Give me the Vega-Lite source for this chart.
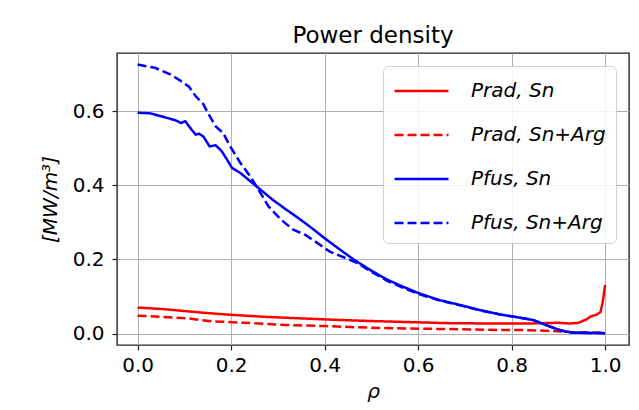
{
  "$schema": "https://vega.github.io/schema/vega-lite/v6.json",
  "width": 512,
  "height": 292,
  "autosize": {"type": "none"},
  "padding": {"left": 117, "top": 53, "right": 10, "bottom": 65},
  "background": "white",
  "title": {"text": "Power density", "font": "DejaVu Sans", "fontSize": 23, "fontWeight": "normal", "color": "black", "offset": 5, "anchor": "middle"},
  "config": {
    "view": {"stroke": "#222222", "strokeWidth": 1.4},
    "axis": {"domain": false, "grid": true, "gridColor": "#b0b0b0", "gridWidth": 1, "tickColor": "#222222", "tickSize": 5, "tickWidth": 1.2, "labelFont": "DejaVu Sans", "labelFontSize": 20, "labelColor": "black", "titleFont": "DejaVu Sans", "titleFontSize": 20, "titleFontWeight": "normal", "titleColor": "black", "titleFontStyle": "italic"}
  },
  "data": {"values": [
    {"rho": 0.0, "p": 0.070, "s": "Prad, Sn"},
    {"rho": 0.054, "p": 0.066, "s": "Prad, Sn"},
    {"rho": 0.106, "p": 0.060, "s": "Prad, Sn"},
    {"rho": 0.141, "p": 0.056, "s": "Prad, Sn"},
    {"rho": 0.193, "p": 0.051, "s": "Prad, Sn"},
    {"rho": 0.272, "p": 0.045, "s": "Prad, Sn"},
    {"rho": 0.402, "p": 0.038, "s": "Prad, Sn"},
    {"rho": 0.49, "p": 0.034, "s": "Prad, Sn"},
    {"rho": 0.577, "p": 0.031, "s": "Prad, Sn"},
    {"rho": 0.664, "p": 0.028, "s": "Prad, Sn"},
    {"rho": 0.751, "p": 0.027, "s": "Prad, Sn"},
    {"rho": 0.838, "p": 0.027, "s": "Prad, Sn"},
    {"rho": 0.899, "p": 0.029, "s": "Prad, Sn"},
    {"rho": 0.925, "p": 0.027, "s": "Prad, Sn"},
    {"rho": 0.943, "p": 0.029, "s": "Prad, Sn"},
    {"rho": 0.96, "p": 0.038, "s": "Prad, Sn"},
    {"rho": 0.969, "p": 0.046, "s": "Prad, Sn"},
    {"rho": 0.982, "p": 0.051, "s": "Prad, Sn"},
    {"rho": 0.99, "p": 0.058, "s": "Prad, Sn"},
    {"rho": 0.995, "p": 0.086, "s": "Prad, Sn"},
    {"rho": 1.0, "p": 0.131, "s": "Prad, Sn"},

    {"rho": 0.0, "p": 0.048, "s": "Prad, Sn+Arg"},
    {"rho": 0.054, "p": 0.045, "s": "Prad, Sn+Arg"},
    {"rho": 0.106, "p": 0.041, "s": "Prad, Sn+Arg"},
    {"rho": 0.159, "p": 0.033, "s": "Prad, Sn+Arg"},
    {"rho": 0.228, "p": 0.029, "s": "Prad, Sn+Arg"},
    {"rho": 0.315, "p": 0.023, "s": "Prad, Sn+Arg"},
    {"rho": 0.402, "p": 0.020, "s": "Prad, Sn+Arg"},
    {"rho": 0.49, "p": 0.016, "s": "Prad, Sn+Arg"},
    {"rho": 0.577, "p": 0.0135, "s": "Prad, Sn+Arg"},
    {"rho": 0.664, "p": 0.012, "s": "Prad, Sn+Arg"},
    {"rho": 0.751, "p": 0.010, "s": "Prad, Sn+Arg"},
    {"rho": 0.838, "p": 0.009, "s": "Prad, Sn+Arg"},
    {"rho": 0.882, "p": 0.007, "s": "Prad, Sn+Arg"},
    {"rho": 0.925, "p": 0.004, "s": "Prad, Sn+Arg"},
    {"rho": 1.0, "p": 0.002, "s": "Prad, Sn+Arg"},

    {"rho": 0.0, "p": 0.596, "s": "Pfus, Sn"},
    {"rho": 0.028, "p": 0.594, "s": "Pfus, Sn"},
    {"rho": 0.054, "p": 0.585, "s": "Pfus, Sn"},
    {"rho": 0.08, "p": 0.576, "s": "Pfus, Sn"},
    {"rho": 0.093, "p": 0.568, "s": "Pfus, Sn"},
    {"rho": 0.102, "p": 0.573, "s": "Pfus, Sn"},
    {"rho": 0.11, "p": 0.559, "s": "Pfus, Sn"},
    {"rho": 0.124, "p": 0.537, "s": "Pfus, Sn"},
    {"rho": 0.132, "p": 0.539, "s": "Pfus, Sn"},
    {"rho": 0.141, "p": 0.531, "s": "Pfus, Sn"},
    {"rho": 0.154, "p": 0.505, "s": "Pfus, Sn"},
    {"rho": 0.167, "p": 0.508, "s": "Pfus, Sn"},
    {"rho": 0.18, "p": 0.492, "s": "Pfus, Sn"},
    {"rho": 0.189, "p": 0.474, "s": "Pfus, Sn"},
    {"rho": 0.202, "p": 0.447, "s": "Pfus, Sn"},
    {"rho": 0.22, "p": 0.433, "s": "Pfus, Sn"},
    {"rho": 0.241, "p": 0.411, "s": "Pfus, Sn"},
    {"rho": 0.263, "p": 0.388, "s": "Pfus, Sn"},
    {"rho": 0.289, "p": 0.361, "s": "Pfus, Sn"},
    {"rho": 0.315, "p": 0.337, "s": "Pfus, Sn"},
    {"rho": 0.341, "p": 0.314, "s": "Pfus, Sn"},
    {"rho": 0.368, "p": 0.289, "s": "Pfus, Sn"},
    {"rho": 0.398, "p": 0.259, "s": "Pfus, Sn"},
    {"rho": 0.429, "p": 0.230, "s": "Pfus, Sn"},
    {"rho": 0.463, "p": 0.199, "s": "Pfus, Sn"},
    {"rho": 0.498, "p": 0.171, "s": "Pfus, Sn"},
    {"rho": 0.533, "p": 0.146, "s": "Pfus, Sn"},
    {"rho": 0.568, "p": 0.126, "s": "Pfus, Sn"},
    {"rho": 0.603, "p": 0.108, "s": "Pfus, Sn"},
    {"rho": 0.646, "p": 0.090, "s": "Pfus, Sn"},
    {"rho": 0.69, "p": 0.077, "s": "Pfus, Sn"},
    {"rho": 0.733, "p": 0.063, "s": "Pfus, Sn"},
    {"rho": 0.777, "p": 0.051, "s": "Pfus, Sn"},
    {"rho": 0.821, "p": 0.042, "s": "Pfus, Sn"},
    {"rho": 0.847, "p": 0.036, "s": "Pfus, Sn"},
    {"rho": 0.873, "p": 0.023, "s": "Pfus, Sn"},
    {"rho": 0.899, "p": 0.011, "s": "Pfus, Sn"},
    {"rho": 0.916, "p": 0.005, "s": "Pfus, Sn"},
    {"rho": 0.934, "p": 0.002, "s": "Pfus, Sn"},
    {"rho": 1.0, "p": 0.001, "s": "Pfus, Sn"},

    {"rho": 0.0, "p": 0.726, "s": "Pfus, Sn+Arg"},
    {"rho": 0.037, "p": 0.717, "s": "Pfus, Sn+Arg"},
    {"rho": 0.071, "p": 0.699, "s": "Pfus, Sn+Arg"},
    {"rho": 0.098, "p": 0.677, "s": "Pfus, Sn+Arg"},
    {"rho": 0.11, "p": 0.666, "s": "Pfus, Sn+Arg"},
    {"rho": 0.124, "p": 0.641, "s": "Pfus, Sn+Arg"},
    {"rho": 0.141, "p": 0.618, "s": "Pfus, Sn+Arg"},
    {"rho": 0.15, "p": 0.596, "s": "Pfus, Sn+Arg"},
    {"rho": 0.167, "p": 0.559, "s": "Pfus, Sn+Arg"},
    {"rho": 0.183, "p": 0.541, "s": "Pfus, Sn+Arg"},
    {"rho": 0.198, "p": 0.505, "s": "Pfus, Sn+Arg"},
    {"rho": 0.22, "p": 0.460, "s": "Pfus, Sn+Arg"},
    {"rho": 0.241, "p": 0.424, "s": "Pfus, Sn+Arg"},
    {"rho": 0.263, "p": 0.379, "s": "Pfus, Sn+Arg"},
    {"rho": 0.28, "p": 0.343, "s": "Pfus, Sn+Arg"},
    {"rho": 0.307, "p": 0.307, "s": "Pfus, Sn+Arg"},
    {"rho": 0.333, "p": 0.280, "s": "Pfus, Sn+Arg"},
    {"rho": 0.359, "p": 0.266, "s": "Pfus, Sn+Arg"},
    {"rho": 0.385, "p": 0.244, "s": "Pfus, Sn+Arg"},
    {"rho": 0.411, "p": 0.221, "s": "Pfus, Sn+Arg"},
    {"rho": 0.446, "p": 0.203, "s": "Pfus, Sn+Arg"},
    {"rho": 0.472, "p": 0.189, "s": "Pfus, Sn+Arg"},
    {"rho": 0.498, "p": 0.168, "s": "Pfus, Sn+Arg"},
    {"rho": 0.533, "p": 0.143, "s": "Pfus, Sn+Arg"},
    {"rho": 0.568, "p": 0.123, "s": "Pfus, Sn+Arg"},
    {"rho": 0.603, "p": 0.106, "s": "Pfus, Sn+Arg"},
    {"rho": 0.646, "p": 0.089, "s": "Pfus, Sn+Arg"},
    {"rho": 0.69, "p": 0.076, "s": "Pfus, Sn+Arg"},
    {"rho": 0.733, "p": 0.062, "s": "Pfus, Sn+Arg"},
    {"rho": 0.777, "p": 0.051, "s": "Pfus, Sn+Arg"},
    {"rho": 0.821, "p": 0.042, "s": "Pfus, Sn+Arg"},
    {"rho": 0.847, "p": 0.036, "s": "Pfus, Sn+Arg"},
    {"rho": 0.873, "p": 0.023, "s": "Pfus, Sn+Arg"},
    {"rho": 0.899, "p": 0.011, "s": "Pfus, Sn+Arg"},
    {"rho": 0.916, "p": 0.005, "s": "Pfus, Sn+Arg"},
    {"rho": 0.934, "p": 0.002, "s": "Pfus, Sn+Arg"},
    {"rho": 1.0, "p": 0.001, "s": "Pfus, Sn+Arg"}
  ]},
  "mark": {"type": "line", "strokeWidth": 2.5, "clip": true},
  "encoding": {
    "x": {"field": "rho", "type": "quantitative", "title": "ρ",
      "scale": {"domain": [-0.044, 1.051], "nice": false, "zero": false},
      "axis": {"values": [0, 0.2, 0.4, 0.6, 0.8, 1.0], "format": ".1f", "labelPadding": 5, "titlePadding": 6}},
    "y": {"field": "p", "type": "quantitative", "title": "[MW/m³]",
      "scale": {"domain": [-0.031, 0.757], "nice": false, "zero": false},
      "axis": {"values": [0, 0.2, 0.4, 0.6], "format": ".1f", "labelPadding": 8, "titlePadding": 12}},
    "color": {"field": "s", "type": "nominal", "title": null,
      "scale": {"domain": ["Prad, Sn", "Prad, Sn+Arg", "Pfus, Sn", "Pfus, Sn+Arg"], "range": ["#ff0000", "#ff0000", "#0000ff", "#0000ff"]},
      "legend": {"orient": "top-right", "offset": 13, "padding": 10, "symbolType": "M-1,0H3", "symbolSize": 729, "symbolStrokeWidth": 2.5, "labelFont": "DejaVu Sans", "labelFontStyle": "italic", "labelFontSize": 20, "labelColor": "black", "labelOffset": 48, "rowPadding": 19, "fillColor": "rgba(255,255,255,0.85)", "strokeColor": "#d0d0d0", "cornerRadius": 5, "labelLimit": 300}},
    "strokeDash": {"field": "s", "type": "nominal", "title": null,
      "scale": {"domain": ["Prad, Sn", "Prad, Sn+Arg", "Pfus, Sn", "Pfus, Sn+Arg"], "range": [[1, 0], [9, 4], [1, 0], [9, 4]]}},
    "order": {"field": "rho", "type": "quantitative"}
  }
}
